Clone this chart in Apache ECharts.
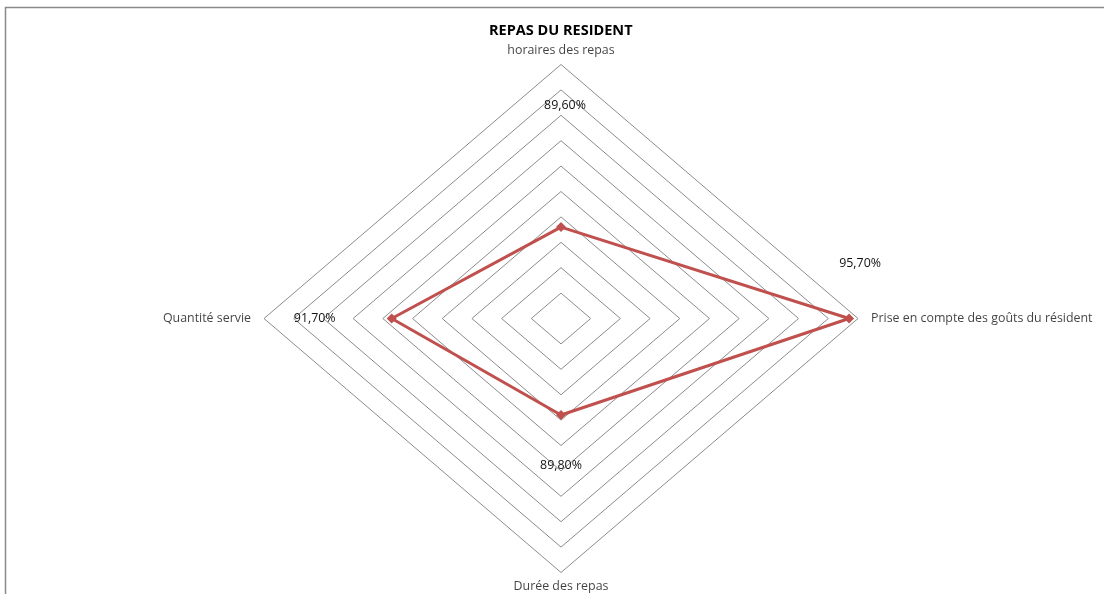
<!DOCTYPE html>
<html>
<head>
<meta charset="utf-8">
<script src="https://cdn.jsdelivr.net/npm/echarts@6/dist/echarts.min.js"></script>
<style>
  html, body { margin: 0; padding: 0; background: #fff; }
  #chart { width: 1104px; height: 594px; }
</style>
</head>
<body>
<div id="chart"></div>
<script>
// Survey axes (clockwise from the top) and the satisfaction rates
const categories = ['horaires des repas', 'Prise en compte des goûts du résident', 'Durée des repas', 'Quantité servie'];
const values = [89.6, 95.7, 89.8, 91.7];
// Radial scale of the spider grid
const scaleMin = 86;
const scaleMax = 96;
const scaleStep = 1;

const span = scaleMax - scaleMin;
const FONT = '"Open Sans", "Liberation Sans", sans-serif';
const LABEL_SIZE = 12.4;

// unit direction of each spoke, first one pointing up, going clockwise
const dirs = categories.map((_, i) => {
  const a = Math.PI / 2 - i * 2 * Math.PI / categories.length;
  return [Math.round(Math.cos(a) * 1e6) / 1e6, Math.round(Math.sin(a) * 1e6) / 1e6];
});
const toPoint = (v, i) => [(v - scaleMin) * dirs[i][0], (v - scaleMin) * dirs[i][1]];

// concentric grid rings, one per tick
const ringSeries = [];
for (let t = scaleMin + scaleStep; t <= scaleMax + 1e-9; t += scaleStep) {
  const pts = categories.map((_, i) => toPoint(t, i));
  pts.push(pts[0]);
  ringSeries.push({
    type: 'line', data: pts, symbol: 'none', silent: true, z: 1,
    lineStyle: { color: '#8c8c8c', width: 1 }
  });
}

const fmt = v => v.toFixed(2).replace('.', ',') + '%';
const valueLabelOffsets = [[4, -122], [11, -55], [0, 50], [-77, 0]];

const dataPts = values.map((v, i) => ({
  value: toPoint(v, i),
  label: { show: true, position: 'inside', offset: valueLabelOffsets[i], formatter: () => fmt(v) }
}));
dataPts.push({ value: toPoint(values[0], 0), symbol: 'none', label: { show: false } });

// category names sit just beyond the outer ring
const namePos = [
  { position: 'top', distance: 8 },
  { position: 'right', distance: 13 },
  { position: 'bottom', distance: 8 },
  { position: 'left', distance: 13 }
];
const namePts = categories.map((c, i) => ({
  value: toPoint(scaleMax, i),
  label: Object.assign({ show: true, formatter: c }, namePos[i])
}));

const chart = echarts.init(document.getElementById('chart'), null, { renderer: 'canvas' });
chart.setOption({
  animation: false,
  backgroundColor: '#ffffff',
  textStyle: { fontFamily: FONT },
  title: {
    text: 'REPAS DU RESIDENT',
    left: 484, top: 18,
    textStyle: { fontFamily: FONT, fontSize: 14.5, fontWeight: 'bold', color: '#000' }
  },
  graphic: [{
    type: 'polyline', silent: true,
    shape: { points: [[5.5, 594], [5.5, 7.5], [1104, 7.5]] },
    style: { stroke: '#8a8a8a', lineWidth: 1.5, fill: null }
  }],
  grid: { left: 264, top: 64.5, width: 594, height: 508, containLabel: false },
  xAxis: { type: 'value', min: -span, max: span, show: false },
  yAxis: { type: 'value', min: -span, max: span, show: false },
  series: ringSeries.concat([
    {
      type: 'line', data: dataPts, z: 5, clip: false,
      symbol: 'diamond', symbolSize: 10,
      lineStyle: { color: '#C0504D', width: 3 },
      itemStyle: { color: '#C0504D' },
      label: { color: '#111', fontSize: LABEL_SIZE, fontFamily: FONT }
    },
    {
      type: 'scatter', data: namePts, symbolSize: 0, silent: true, z: 6,
      label: { color: '#111', fontSize: LABEL_SIZE, fontFamily: FONT }
    }
  ])
});
</script>
</body>
</html>
